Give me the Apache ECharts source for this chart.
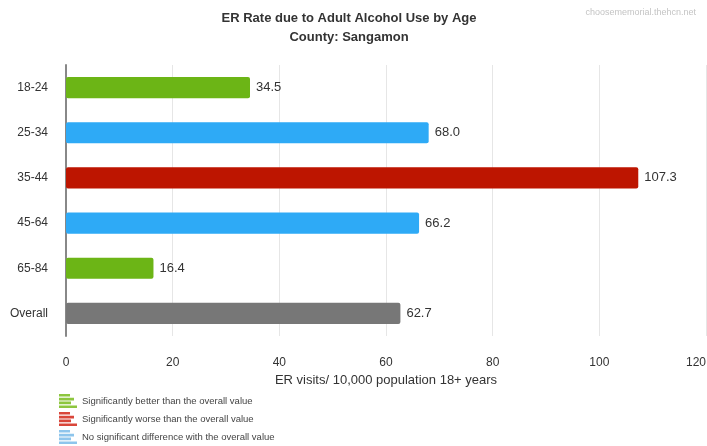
<!DOCTYPE html>
<html>
<head>
<meta charset="utf-8">
<script src="https://cdn.jsdelivr.net/npm/echarts@6/dist/echarts.min.js"></script>
<style>
html,body{margin:0;padding:0;background:#fff;}
#c{width:707px;height:446px;}
</style>
</head>
<body>
<div id="c"></div>
<script>
var categories = ['18-24', '25-34', '35-44', '45-64', '65-84', 'Overall'];
var values = [34.5, 68.0, 107.3, 66.2, 16.4, 62.7];
var groups = ['better', 'none', 'worse', 'none', 'better', 'overall'];
var xTicks = [0, 20, 40, 60, 80, 100, 120];

var groupDefs = [
  {key: 'better', name: 'Significantly better than the overall value', color: '#6cb516', legendColor: '#8dc63f'},
  {key: 'worse', name: 'Significantly worse than the overall value', color: '#bd1500', legendColor: '#d9463a'},
  {key: 'none', name: 'No significant difference with the overall value', color: '#2eaaf6', legendColor: '#8ec5ec'},
  {key: 'overall', name: 'Overall', color: '#777777', legendColor: '#777777'}
];

var font = '"Liberation Sans", Arial, Helvetica, sans-serif';
var iconPath = 'path://M0,0h11v2.6h-11z M0,3.8h15v2.6h-15z M0,7.6h12v2.6h-12z M0,11.4h18v2.6h-18z';

var series = groupDefs.map(function (g) {
  return {
    name: g.name,
    type: 'bar',
    stack: 'all',
    barWidth: '47%',
    data: values.map(function (v, i) { return groups[i] === g.key ? v : '-'; }),
    itemStyle: {color: g.color, borderRadius: 2},
    label: {
      show: true,
      position: 'right',
      distance: 6,
      fontSize: 13,
      fontFamily: font,
      color: '#333',
      formatter: function (p) { return Number(p.value).toFixed(1); }
    }
  };
});

var chart = echarts.init(document.getElementById('c'), null, {renderer: 'canvas'});
chart.setOption({
  animation: false,
  backgroundColor: '#fff',
  title: [{
    text: 'ER Rate due to Adult Alcohol Use by Age\nCounty: Sangamon',
    left: 344,
    top: 4,
    textAlign: 'center',
    textStyle: {fontSize: 13, fontWeight: 'bold', color: '#333', lineHeight: 19, fontFamily: font}
  }, {
    text: 'choosememorial.thehcn.net',
    right: 6,
    top: 3,
    textStyle: {fontSize: 9, fontWeight: 'normal', color: '#c4c4c4', fontFamily: font}
  }],
  legend: {
    orient: 'vertical',
    left: 59,
    top: 394,
    height: 80,
    padding: 0,
    itemGap: 4,
    itemWidth: 18,
    itemHeight: 14,
    icon: iconPath,
    selectedMode: false,
    data: groupDefs.slice(0, 3).map(function (g) {
      return {name: g.name, itemStyle: {color: g.legendColor}};
    }),
    textStyle: {fontSize: 9.5, color: '#444', fontFamily: font}
  },
  grid: {left: 66, right: 1, top: 65, height: 271, containLabel: false, outerBoundsMode: 'none'},
  xAxis: {
    type: 'value',
    min: xTicks[0],
    max: xTicks[xTicks.length - 1],
    interval: xTicks[1] - xTicks[0],
    name: 'ER visits/ 10,000 population 18+ years',
    nameLocation: 'middle',
    nameGap: 38,
    nameTextStyle: {fontSize: 13, color: '#333', fontFamily: font},
    axisLine: {show: false},
    axisTick: {show: false},
    axisLabel: {fontSize: 12, color: '#333', margin: 21, fontFamily: font, alignMaxLabel: 'right'},
    splitLine: {lineStyle: {color: '#e6e6e6', width: 1}}
  },
  yAxis: {
    type: 'category',
    inverse: true,
    data: categories,
    axisLine: {show: true, lineStyle: {color: '#888', width: 2}},
    axisTick: {show: false},
    axisLabel: {fontSize: 12, color: '#333', margin: 18, fontFamily: font},
    splitLine: {show: false}
  },
  series: series
});
</script>
</body>
</html>
